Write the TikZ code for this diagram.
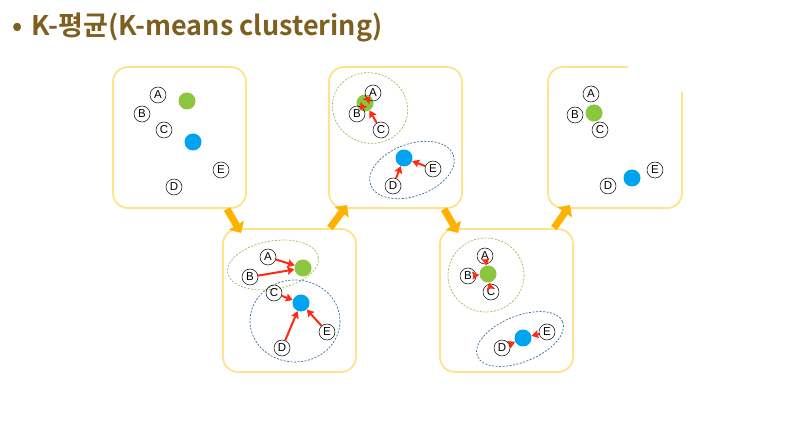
\documentclass[tikz,border=0pt]{standalone}
\usepackage{fontspec}
\setmainfont{Liberation Sans}
\newfontfamily\krfont{Noto Sans CJK KR}[BoldFont={Noto Sans CJK KR Bold}]
\usetikzlibrary{arrows.meta}
\definecolor{titlebrown}{HTML}{7F5F1F}
\definecolor{boxline}{HTML}{FFE28C}
\definecolor{stepor}{HTML}{FFB100}
\definecolor{dotgreen}{HTML}{8CC63F}
\definecolor{dotblue}{HTML}{00A3EE}
\definecolor{grpgreen}{HTML}{9BBB59}
\definecolor{grpblue}{HTML}{3A6A9A}
\definecolor{movered}{HTML}{FF2A14}
\tikzset{
  panel/.style={draw=boxline, line width=1.8pt, rounded corners=15pt},
  pt/.style={circle, draw=black, line width=0.5pt, minimum size=16pt, inner sep=0pt, font=\fontsize{11.5}{11.5}\selectfont},
  gdot/.style={circle, fill=dotgreen, minimum size=17pt, inner sep=0pt},
  bdot/.style={circle, fill=dotblue, minimum size=17pt, inner sep=0pt},
  ggrp/.style={draw=grpgreen, line width=0.7pt, dash pattern=on 2pt off 1.5pt},
  bgrp/.style={draw=grpblue, line width=0.7pt, dash pattern=on 2pt off 1.5pt},
  move/.style={draw=movered, line width=2pt, -{Stealth[length=7pt,width=8pt,inset=1pt]}},
  nextstep/.style={draw=stepor, line width=7pt, -{Triangle[length=9pt,width=17pt]}},
}
\begin{document}
\begin{tikzpicture}[x=1pt,y=-1pt]
\useasboundingbox (0,0) rectangle (798,430);
\fill[white] (0,0) rectangle (798,430);

% title
\node[anchor=base west, inner sep=0pt, text=titlebrown, font=\krfont\bfseries\fontsize{27}{27}\selectfont] (title) at (12,36) {•\hspace{9pt}K-평균(K-means clustering)};

% panels
\draw[panel] (113,67) rectangle (246,208);
\draw[panel] (223,229) rectangle (356,372);
\draw[panel] (329,67) rectangle (462,208);
\draw[panel] (440,229) rectangle (573,372);
\draw[panel] (628,67) -- (548,67) -- (548,208) -- (682,208) -- (682,92);

% step arrows
\coordinate (s1a) at (227,209); \coordinate (s1b) at (241,233);
\coordinate (s2a) at (330,228); \coordinate (s2b) at (347,205);
\coordinate (s3a) at (444,209); \coordinate (s3b) at (458,233);
\coordinate (s4a) at (554,228); \coordinate (s4b) at (570,205);
\draw[nextstep] (s1a) -- (s1b);
\draw[nextstep] (s2a) -- (s2b);
\draw[nextstep] (s3a) -- (s3b);
\draw[nextstep] (s4a) -- (s4b);

% panel 1: initial centres
\node[gdot] (g1) at (187,101) {};
\node[bdot] (c1) at (193,142) {};
\node[pt] (A1) at (158,95) {A};
\node[pt] (B1) at (142,114) {B};
\node[pt] (C1) at (164,130) {C};
\node[pt] (D1) at (174,187) {D};
\node[pt] (E1) at (221,170) {E};

% panel 2: assignment
\draw[ggrp, rotate around={10:(273,265)}] (273,265) ellipse (46 and 24);
\draw[bgrp] (295,321) ellipse (45 and 41);
\node[gdot] (g2) at (303,268) {};
\node[bdot] (c2) at (301,303) {};
\node[pt] (A2) at (268,257) {A};
\node[pt] (B2) at (250,277) {B};
\node[pt] (C2) at (274,293) {C};
\node[pt] (D2) at (282,348) {D};
\node[pt] (E2) at (327,332) {E};
\draw[move] (A2) -- (g2);
\draw[move] (B2) -- (g2);
\draw[move] (C2) -- (c2);
\draw[move] (D2) -- (c2);
\draw[move] (E2) -- (c2);

% panel 3: centres moved
\draw[ggrp, rotate around={-20:(370,108)}] (370,108) ellipse (38 and 35);
\draw[bgrp, rotate around={20:(412,170)}] (412,170) ellipse (44 and 26);
\node[gdot] (g3) at (365,103) {};
\node[bdot] (c3) at (404,158) {};
\node[pt] (A3) at (373,93) {A};
\node[pt] (B3) at (357,114) {B};
\node[pt] (C3) at (381,130) {C};
\node[pt] (D3) at (393,186) {D};
\node[pt] (E3) at (433,169) {E};
\draw[move] (A3) -- (g3);
\draw[move] (B3) -- (g3);
\draw[move] (C3) -- (g3);
\draw[move] (D3) -- (c3);
\draw[move] (E3) -- (c3);

% panel 4: reassignment
\draw[ggrp] (486,275) ellipse (38 and 37);
\draw[bgrp, rotate around={22:(520,339)}] (520,339) ellipse (46 and 23);
\node[gdot] (g4) at (488,274) {};
\node[bdot] (c4) at (523,338) {};
\node[pt] (A4) at (485,256) {A};
\node[pt] (B4) at (468,276) {B};
\node[pt] (C4) at (491,292) {C};
\node[pt] (D4) at (502,348) {D};
\node[pt] (E4) at (547,332) {E};
\draw[move] (A4) -- (g4);
\draw[move] (B4) -- (g4);
\draw[move] (C4) -- (g4);
\draw[move] (D4) -- (c4);
\draw[move] (E4) -- (c4);

% panel 5: converged
\node[gdot] (g5) at (594,113) {};
\node[bdot] (c5) at (632,178) {};
\node[pt] (A5) at (591,94) {A};
\node[pt] (B5) at (575,115) {B};
\node[pt] (C5) at (600,130) {C};
\node[pt] (D5) at (608,186) {D};
\node[pt] (E5) at (655,170) {E};
\end{tikzpicture}
\end{document}
